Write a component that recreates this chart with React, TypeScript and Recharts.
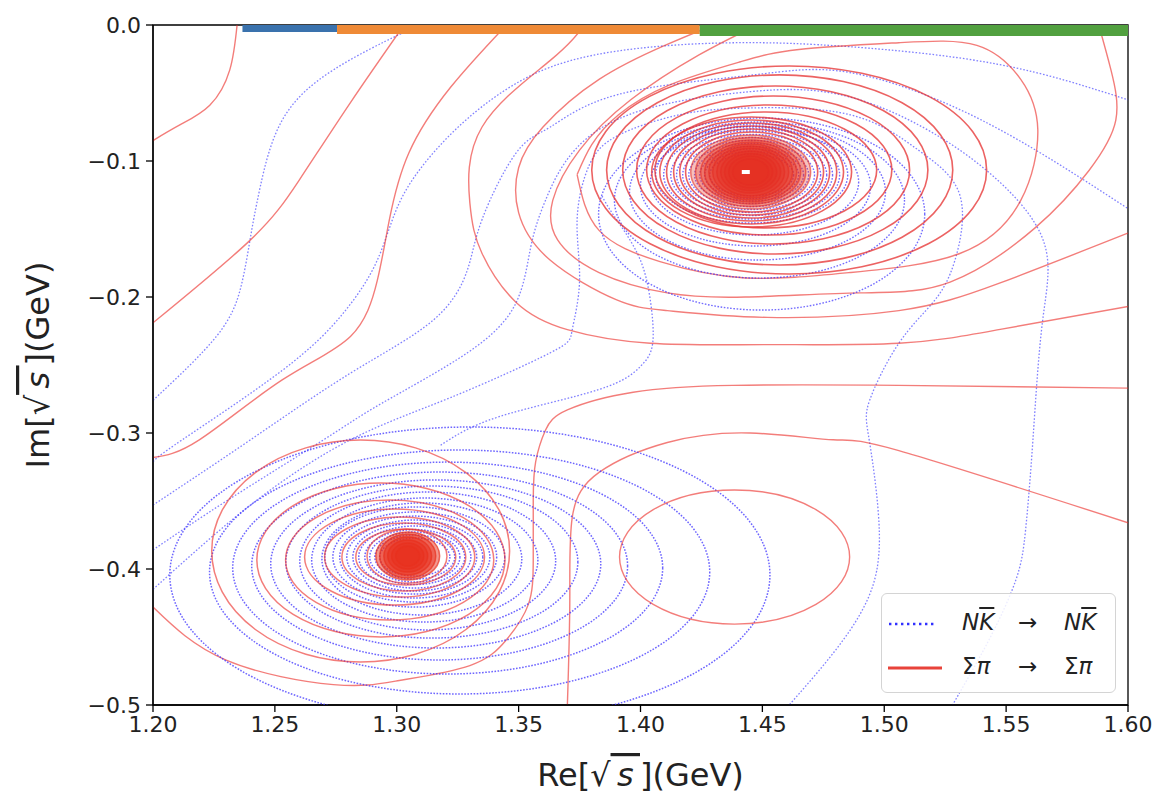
import { ComposedChart, Line, Scatter, XAxis, YAxis, ReferenceArea, Legend, Label } from "recharts";

// axes
const xTicks = [1.2, 1.25, 1.3, 1.35, 1.4, 1.45, 1.5, 1.55, 1.6];
const yTicks = [0, -0.1, -0.2, -0.3, -0.4, -0.5];

// thresholds drawn on the real axis (edges in GeV)
const thresholdEdges = [1.2367, 1.2755, 1.4243, 1.6];

// pole position marker (top-right)
const poleMark = [{ x: 1.4432, y: -0.1081 }];

// N Kbar -> N Kbar : open contour lines, [Re, Im]
const nkOpenA = [[1.2, -0.276], [1.226, -0.229], [1.236, -0.193], [1.24, -0.156], [1.244, -0.119], [1.253, -0.07], [1.274, -0.033], [1.301, -0.007], [1.309, 0]];
const nkOpenB = [[1.2, -0.321], [1.212, -0.305], [1.253, -0.254], [1.278, -0.212], [1.292, -0.173], [1.301, -0.131], [1.315, -0.094], [1.335, -0.06], [1.363, -0.031], [1.4, -0.017], [1.441, -0.013], [1.486, -0.016], [1.547, -0.029], [1.6, -0.055]];
const nkOpenC = [[1.2, -0.353], [1.24, -0.305], [1.281, -0.256], [1.315, -0.217], [1.329, -0.18], [1.335, -0.143], [1.349, -0.094], [1.363, -0.075], [1.391, -0.051], [1.445, -0.037], [1.486, -0.035], [1.54, -0.07], [1.6, -0.135]];
const nkArchD = [[1.2, -0.386], [1.231, -0.349], [1.27, -0.305], [1.294, -0.278], [1.329, -0.241], [1.349, -0.204], [1.355, -0.163], [1.361, -0.129], [1.373, -0.092], [1.4, -0.063], [1.445, -0.049], [1.486, -0.053], [1.531, -0.092], [1.564, -0.153], [1.565, -0.217], [1.561, -0.305], [1.558, -0.371], [1.554, -0.408], [1.543, -0.452], [1.528, -0.5]];
const nkArchE = [[1.2, -0.415], [1.24, -0.353], [1.281, -0.305], [1.322, -0.274], [1.363, -0.241], [1.372, -0.224], [1.375, -0.188], [1.374, -0.143], [1.379, -0.103], [1.391, -0.081], [1.416, -0.066], [1.445, -0.061], [1.486, -0.066], [1.514, -0.092], [1.531, -0.125], [1.529, -0.173], [1.52, -0.204], [1.506, -0.234], [1.494, -0.276], [1.494, -0.307], [1.498, -0.374], [1.493, -0.423], [1.479, -0.462], [1.461, -0.5]];
const nkSpur = [[1.318, -0.309], [1.342, -0.288], [1.383, -0.268], [1.4, -0.251], [1.405, -0.234], [1.404, -0.202], [1.399, -0.169], [1.389, -0.14], [1.384, -0.125]];

// N Kbar rings: centre (x, y) and semi-axes (rx, ry), GeV
const nkRingsTop = [
  { x: 1.4497, y: -0.139, rx: 0.0669, ry: 0.0706 },
  { x: 1.4488, y: -0.1287, rx: 0.0595, ry: 0.0574 },
  { x: 1.448, y: -0.1228, rx: 0.0525, ry: 0.05 },
  { x: 1.4472, y: -0.1184, rx: 0.0472, ry: 0.0441 },
  { x: 1.4468, y: -0.1154, rx: 0.0427, ry: 0.039 },
  { x: 1.4456, y: -0.1103, rx: 0.0394, ry: 0.0353 },
  { x: 1.4456, y: -0.1103, rx: 0.0361, ry: 0.0324 },
  { x: 1.4456, y: -0.1103, rx: 0.0332, ry: 0.0298 },
  { x: 1.4456, y: -0.1103, rx: 0.0308, ry: 0.0276 },
  { x: 1.4456, y: -0.1103, rx: 0.0283, ry: 0.0254 },
  { x: 1.4456, y: -0.1103, rx: 0.0258, ry: 0.0232 },
  { x: 1.4456, y: -0.1103, rx: 0.0234, ry: 0.021 },
  { x: 1.4456, y: -0.1103, rx: 0.0213, ry: 0.0191 },
  { x: 1.4456, y: -0.1103, rx: 0.0193, ry: 0.0173 },
  { x: 1.4456, y: -0.1103, rx: 0.0172, ry: 0.0154 },
];
const nkRingsLow = [
  { x: 1.33, y: -0.4044, rx: 0.1231, ry: 0.1088 },
  { x: 1.3258, y: -0.4022, rx: 0.1026, ry: 0.0897 },
  { x: 1.3209, y: -0.3993, rx: 0.0882, ry: 0.0779 },
  { x: 1.3176, y: -0.3978, rx: 0.0771, ry: 0.0691 },
  { x: 1.316, y: -0.3963, rx: 0.0677, ry: 0.0618 },
  { x: 1.3144, y: -0.3949, rx: 0.0599, ry: 0.0559 },
  { x: 1.3127, y: -0.3941, rx: 0.0525, ry: 0.0507 },
  { x: 1.3115, y: -0.3934, rx: 0.0464, ry: 0.0456 },
  { x: 1.3103, y: -0.3926, rx: 0.041, ry: 0.0412 },
  { x: 1.3074, y: -0.3912, rx: 0.0369, ry: 0.0368 },
  { x: 1.3074, y: -0.3912, rx: 0.0336, ry: 0.0331 },
  { x: 1.3074, y: -0.3912, rx: 0.0308, ry: 0.0301 },
  { x: 1.3074, y: -0.3912, rx: 0.0279, ry: 0.0272 },
  { x: 1.3074, y: -0.3912, rx: 0.0254, ry: 0.025 },
  { x: 1.3074, y: -0.3912, rx: 0.023, ry: 0.0228 },
  { x: 1.3074, y: -0.3912, rx: 0.0205, ry: 0.0202 },
  { x: 1.3074, y: -0.3912, rx: 0.0185, ry: 0.0184 },
  { x: 1.3074, y: -0.3912, rx: 0.0164, ry: 0.0162 },
  { x: 1.3074, y: -0.3912, rx: 0.0144, ry: 0.014 },
];

// Sigma pi -> Sigma pi : open contour lines
const spOpenA = [[1.2345, 0], [1.2315, -0.033], [1.2233, -0.059], [1.211, -0.0735], [1.2, -0.085]];
const spOpenB = [[1.303, 0], [1.281, -0.057], [1.26, -0.114], [1.24, -0.158], [1.2, -0.219]];
const spOpenC = [[1.345, 0], [1.322, -0.046], [1.305, -0.094], [1.297, -0.143], [1.292, -0.188], [1.281, -0.229], [1.253, -0.261], [1.219, -0.305], [1.2, -0.318]];
const spOpenD = [[1.377, 0], [1.363, -0.026], [1.335, -0.075], [1.33, -0.131], [1.335, -0.168], [1.349, -0.204], [1.37, -0.224], [1.404, -0.234], [1.452, -0.235], [1.506, -0.234], [1.547, -0.224], [1.6, -0.207]];
const spOpenE = [[1.43, 0], [1.41, -0.015], [1.383, -0.04], [1.36, -0.075], [1.35, -0.105], [1.35, -0.138], [1.363, -0.173], [1.39, -0.202], [1.411, -0.21], [1.452, -0.215], [1.506, -0.21], [1.547, -0.19], [1.6, -0.153]];
const spOpenF = [[1.448, 0], [1.424, -0.022], [1.396, -0.055], [1.375, -0.092], [1.364, -0.129], [1.366, -0.158], [1.383, -0.182], [1.411, -0.197], [1.443, -0.2], [1.49, -0.197], [1.527, -0.189], [1.562, -0.149], [1.584, -0.107], [1.595, -0.07], [1.593, -0.033], [1.588, 0]];
const spLoopG = [[1.374, -0.11], [1.38, -0.088], [1.391, -0.066], [1.412, -0.044], [1.441, -0.027], [1.465, -0.018], [1.506, -0.013], [1.538, -0.015], [1.556, -0.04], [1.563, -0.077], [1.556, -0.129], [1.531, -0.168], [1.486, -0.182], [1.443, -0.186], [1.408, -0.174], [1.383, -0.151], [1.374, -0.11]];
const spOpenH = [[1.2, -0.428], [1.23, -0.467], [1.274, -0.485], [1.301, -0.482], [1.33, -0.471], [1.345, -0.452], [1.354, -0.426], [1.356, -0.393], [1.356, -0.349], [1.357, -0.321], [1.361, -0.298], [1.37, -0.283], [1.397, -0.27], [1.438, -0.265], [1.506, -0.265], [1.6, -0.267]];
const spOpenI = [[1.37, -0.5], [1.371, -0.423], [1.372, -0.362], [1.383, -0.329], [1.411, -0.307], [1.445, -0.3], [1.479, -0.305], [1.506, -0.313], [1.6, -0.366]];

// Sigma pi rings
const spRingsTop = [
  { x: 1.461, y: -0.1066, rx: 0.081, ry: 0.0765 },
  { x: 1.4571, y: -0.1066, rx: 0.071, ry: 0.0699 },
  { x: 1.4553, y: -0.1066, rx: 0.0626, ry: 0.0618 },
  { x: 1.4544, y: -0.1066, rx: 0.056, ry: 0.0544 },
  { x: 1.4528, y: -0.1066, rx: 0.0503, ry: 0.0478 },
  { x: 1.4514, y: -0.1066, rx: 0.0455, ry: 0.0426 },
  { x: 1.4456, y: -0.1081, rx: 0.041, ry: 0.0404 },
  { x: 1.4456, y: -0.1081, rx: 0.0377, ry: 0.0382 },
  { x: 1.4456, y: -0.1081, rx: 0.0349, ry: 0.036 },
  { x: 1.4456, y: -0.1081, rx: 0.032, ry: 0.0338 },
  { x: 1.4456, y: -0.1081, rx: 0.0295, ry: 0.0316 },
  { x: 1.4456, y: -0.1081, rx: 0.0271, ry: 0.0294 },
];
const spCoreTop = [
  { x: 1.4452, y: -0.1081, rx: 0.0246, ry: 0.0272 },
  { x: 1.4452, y: -0.1081, rx: 0.0226, ry: 0.0254 },
  { x: 1.4452, y: -0.1081, rx: 0.0205, ry: 0.0235 },
  { x: 1.4452, y: -0.1081, rx: 0.0189, ry: 0.0221 },
  { x: 1.4452, y: -0.1081, rx: 0.0172, ry: 0.0206 },
  { x: 1.4452, y: -0.1081, rx: 0.0156, ry: 0.0191 },
  { x: 1.4452, y: -0.1081, rx: 0.0139, ry: 0.0176 },
  { x: 1.4452, y: -0.1081, rx: 0.0123, ry: 0.0154 },
  { x: 1.4452, y: -0.1081, rx: 0.0107, ry: 0.0136 },
  { x: 1.4452, y: -0.1081, rx: 0.009, ry: 0.0118 },
  { x: 1.4452, y: -0.1081, rx: 0.0074, ry: 0.0096 },
];
const spRingsLow = [
  { x: 1.2852, y: -0.3868, rx: 0.0611, ry: 0.0816 },
  { x: 1.2935, y: -0.3934, rx: 0.0509, ry: 0.0566 },
  { x: 1.2971, y: -0.3934, rx: 0.0427, ry: 0.0441 },
  { x: 1.2991, y: -0.3912, rx: 0.0369, ry: 0.0353 },
  { x: 1.3012, y: -0.3912, rx: 0.0308, ry: 0.0294 },
  { x: 1.3029, y: -0.3912, rx: 0.0254, ry: 0.025 },
  { x: 1.3037, y: -0.3912, rx: 0.0205, ry: 0.0206 },
  { x: 1.3042, y: -0.3906, rx: 0.0164, ry: 0.0199 },
];
const spCoreLow = [
  { x: 1.3045, y: -0.3904, rx: 0.0131, ry: 0.0176 },
  { x: 1.3045, y: -0.3904, rx: 0.0115, ry: 0.0162 },
  { x: 1.3045, y: -0.3904, rx: 0.0098, ry: 0.014 },
  { x: 1.3045, y: -0.3904, rx: 0.0082, ry: 0.0118 },
  { x: 1.3045, y: -0.3904, rx: 0.0066, ry: 0.0096 },
  { x: 1.3045, y: -0.3904, rx: 0.0049, ry: 0.0074 },
];
const spRingRight = [{ x: 1.4386, y: -0.3912, rx: 0.0472, ry: 0.0493 }];

const nkLines = [nkOpenA, nkOpenB, nkOpenC, nkArchD, nkArchE, nkSpur];
const spLines = [spOpenA, spOpenB, spOpenC, spOpenD, spOpenE, spOpenF, spLoopG, spOpenH, spOpenI];

const W = 1150;
const H = 790;
const PLOT_W = 975;
const PLOT_H = 680;
const PX_X = PLOT_W / 0.4;
const PX_Y = PLOT_H / 0.5;

const BLUE = "rgba(45,45,255,0.6)";
const RED = "rgba(235,45,40,0.62)";
const FONT = "DejaVu Sans, sans-serif";
const toPts = (arr) => arr.map(([x, y]) => ({ x, y }));

function ring(stroke, width, dash, fill = "none") {
  return (p) => (
    <ellipse cx={p.cx} cy={p.cy} rx={p.payload.rx * PX_X} ry={p.payload.ry * PX_Y}
      fill={fill} stroke={stroke} strokeWidth={width} strokeDasharray={dash} />
  );
}

function LegendBox() {
  const txt = { position: "absolute", lineHeight: "26px", whiteSpace: "nowrap" };
  return (
    <div style={{ width: 235, height: 100, boxSizing: "border-box", border: "1.5px solid #d4d4d4", borderRadius: 6,
      background: "rgba(255,255,255,0.85)", position: "relative", fontFamily: FONT, fontSize: 23, color: "#222" }}>
      <svg style={{ position: "absolute", left: 6, top: 22 }} width={52} height={16}>
        <line x1={1} y1={8} x2={49} y2={8} stroke="#3030ff" strokeWidth={2.4} strokeDasharray="2.4 3.6" />
      </svg>
      <svg style={{ position: "absolute", left: 6, top: 66 }} width={56} height={16}>
        <line x1={0} y1={8} x2={54} y2={8} stroke="#e8433a" strokeWidth={3} />
      </svg>
      <span style={{ ...txt, left: 80, top: 15, fontStyle: "italic" }}>N<span style={{ textDecoration: "overline" }}>K</span></span>
      <span style={{ ...txt, left: 136, top: 15 }}>→</span>
      <span style={{ ...txt, left: 182, top: 15, fontStyle: "italic" }}>N<span style={{ textDecoration: "overline" }}>K</span></span>
      <span style={{ ...txt, left: 80, top: 59 }}>Σ<i>π</i></span>
      <span style={{ ...txt, left: 136, top: 59 }}>→</span>
      <span style={{ ...txt, left: 182, top: 59 }}>Σ<i>π</i></span>
    </div>
  );
}

function AxisTitle({ viewBox, name, vertical }) {
  const body = (
    <>
      {name}[√<tspan fontStyle="italic" textDecoration="overline">{"\u2009s\u2009"}</tspan>](GeV)
    </>
  );
  if (vertical) {
    const cx = 30;
    const cy = viewBox.y + viewBox.height / 2;
    return (
      <text x={cx} y={cy} transform={`rotate(-90 ${cx} ${cy})`} textAnchor="middle" dominantBaseline="central"
        fontSize={32} fontFamily={FONT} fill="#222">{body}</text>
    );
  }
  return (
    <text x={viewBox.x + viewBox.width / 2} y={viewBox.y + 70} textAnchor="middle" dominantBaseline="central"
      fontSize={32} fontFamily={FONT} fill="#222">{body}</text>
  );
}

const barColors = ["#3a72ad", "#ef8a36", "#51a03f"];
const barWidths = [14, 18, 22];

export default function App() {
  const tick = { fontSize: 22, fill: "#222", fontFamily: FONT };
  return (
    <ComposedChart width={W} height={H} margin={{ top: 17, right: 30, left: 65, bottom: 43 }}>
      <XAxis dataKey="x" type="number" domain={[1.2, 1.6]} ticks={xTicks} interval={0} allowDataOverflow
        tickFormatter={(v) => v.toFixed(2)} tick={tick} height={50} tickSize={7} tickMargin={4}
        axisLine={{ stroke: "#000", strokeWidth: 1.3 }} tickLine={{ stroke: "#000", strokeWidth: 1.3 }}
        label={<Label content={(p) => <AxisTitle viewBox={p.viewBox} name="Re" />} />} />
      <YAxis dataKey="y" type="number" domain={[-0.5, 0]} ticks={yTicks} interval={0} allowDataOverflow
        tickFormatter={(v) => (v === 0 ? "0.0" : "\u2212" + Math.abs(v).toFixed(1))} tick={tick} width={80}
        tickSize={7} tickMargin={5} axisLine={{ stroke: "#000", strokeWidth: 1.3 }} tickLine={{ stroke: "#000", strokeWidth: 1.3 }}
        label={<Label content={(p) => <AxisTitle viewBox={p.viewBox} name="Im" vertical />} />} />

      {nkLines.map((c, i) => (
        <Line key={"nk" + i} data={toPts(c)} dataKey="y" type="natural" stroke={BLUE} strokeWidth={1.3}
          strokeDasharray="1.6 1.8" dot={false} activeDot={false} isAnimationActive={false} />
      ))}
      <Scatter data={nkRingsTop} dataKey="y" shape={ring("rgba(55,45,255,0.7)", 1.4, "1.6 1.6")} isAnimationActive={false} />
      <Scatter data={nkRingsLow} dataKey="y" shape={ring("rgba(60,50,255,0.75)", 1.5, "1.6 1.5")} isAnimationActive={false} />

      {spLines.map((c, i) => (
        <Line key={"sp" + i} data={toPts(c)} dataKey="y" type="natural" stroke={RED} strokeWidth={1.4}
          dot={false} activeDot={false} isAnimationActive={false} />
      ))}
      <Scatter data={spRingsTop} dataKey="y" shape={ring("rgba(230,45,45,0.75)", 1.6)} isAnimationActive={false} />
      <Scatter data={spCoreTop} dataKey="y" shape={ring("rgba(228,45,35,0.6)", 1.5, undefined, "rgba(228,45,32,0.3)")} isAnimationActive={false} />
      <Scatter data={spRingsLow} dataKey="y" shape={ring(RED, 1.5)} isAnimationActive={false} />
      <Scatter data={spCoreLow} dataKey="y" shape={ring("rgba(232,48,30,0.7)", 1.5, undefined, "rgba(232,48,30,0.5)")} isAnimationActive={false} />
      <Scatter data={spRingRight} dataKey="y" shape={ring(RED, 1.4)} isAnimationActive={false} />
      <Scatter data={poleMark} dataKey="y" isAnimationActive={false}
        shape={(p) => <rect x={p.cx - 4} y={p.cy - 2} width={8} height={4} fill="#fff" />} />

      {barColors.map((c, i) => (
        <Line key={"thr" + i} data={[{ x: thresholdEdges[i], y: 0 }, { x: thresholdEdges[i + 1], y: 0 }]} dataKey="y"
          type="linear" stroke={c} strokeWidth={barWidths[i]} dot={false} activeDot={false} isAnimationActive={false} />
      ))}

      <ReferenceArea x1={1.2} x2={1.6} y1={-0.5} y2={0} fill="none" stroke="#000" strokeWidth={1.3} ifOverflow="visible" />
      <Legend layout="vertical" align="center" verticalAlign="middle" content={LegendBox}
        wrapperStyle={{ left: 873, top: 585, width: 235, height: 100 }} />
    </ComposedChart>
  );
}
